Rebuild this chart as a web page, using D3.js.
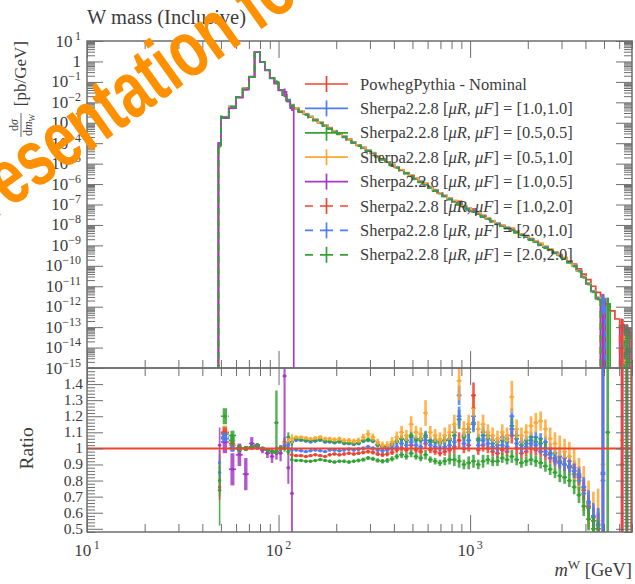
<!DOCTYPE html>
<html>
<head>
<meta charset="utf-8">
<script src="https://cdn.jsdelivr.net/npm/d3@7"></script>
<style>
  body { margin: 0; background: #fff; }
  svg text { font-family: "Liberation Serif", "Times New Roman", serif; fill: #3c3c3c; }
</style>
</head>
<body>
<svg id="chart" width="635" height="584"></svg>
<script>
// ---- data -------------------------------------------------------------
// bin edges of the m^W histogram [GeV]
const binEdges = [48.5,50,55,60,65,70,75,80,85,90,95,100,105,110,115,120,
  127,135,143,151,160,170,180,190,202,214,226,240,254,269,285,302,320,339,359,380,
  403,426,452,478,507,537,569,602,638,676,716,759,804,851,902,955,1012,1072,1135,1203,
  1274,1350,1430,1515,1604,1700,1800,1907,2020,2140,2267,2402,2544,2695,2855,3024,3204,
  3394,3595,3808,4034,4274,4527,4796,5080,5381,5701,6039,6397,6777,7179];

// PowhegPythia nominal dσ/dm^W [pb/GeV]
const nominal = [1.0e-4,1.70e-3,5.9e-3,1.78e-2,5.0e-2,0.174,2.82,0.933,0.380,0.155,8.7e-2,4.0e-2,2.24e-2,1.26e-2,7.2e-3,
  4.9e-3,3.55e-3,2.63e-3,1.91e-3,1.38e-3,1.0e-3,7.4e-4,5.4e-4,3.9e-4,2.9e-4,
  2.1e-4,1.51e-4,1.10e-4,7.9e-5,5.9e-5,4.3e-5,3.2e-5,2.3e-5,1.66e-5,1.20e-5,
  8.7e-6,6.5e-6,4.7e-6,3.4e-6,2.45e-6,1.78e-6,1.29e-6,9.3e-7,6.8e-7,4.9e-7,
  3.5e-7,2.6e-7,1.86e-7,1.38e-7,1.05e-7,7.9e-8,6.0e-8,4.6e-8,3.5e-8,2.6e-8,
  2.0e-8,1.51e-8,1.15e-8,8.9e-9,7.1e-9,5.5e-9,4.4e-9,3.4e-9,2.6e-9,1.95e-9,
  1.48e-9,1.10e-9,8.3e-10,6.3e-10,4.7e-10,3.5e-10,2.5e-10,1.74e-10,1.20e-10,7.1e-11,
  3.9e-11,2.1e-11,1.0e-11,5.0e-12,2.5e-12,1.26e-12,6.3e-13,2.5e-13,1.26e-13,6.3e-14,3.2e-14];

// Sherpa / nominal ratios and their uncertainties
const ratioS11 = [0.91,1.06,1.00,1.00,1.00,1.01,1.02,1.00,0.99,0.98,0.98,1.00,1.02,1.03,1.04,
  1.05,1.05,1.045,1.04,1.045,1.05,1.04,1.04,1.035,1.04,
  1.03,1.03,1.025,1.03,1.045,1.05,1.045,1.02,1.01,1.00,
  1.02,1.04,1.06,1.05,1.07,1.06,1.05,1.08,1.05,1.04,
  1.03,1.05,1.06,1.10,1.33,1.08,1.12,1.20,1.06,1.10,
  1.08,1.05,1.04,1.07,1.06,1.20,1.08,1.04,1.05,1.07,
  1.07,1.06,1.04,1.00,0.97,0.95,0.94,0.92,0.88,0.84,
  0.76,0.66,0.57,0.52,0.80,null,null,null,null,null,null];
const errS11 = [0.08,0.03,0.02,0.015,0.012,0.01,0.008,0.008,0.01,0.012,0.015,0.015,0.02,0.02,0.02,
  0.008,0.008,0.008,0.008,0.008,0.008,0.008,0.009,0.009,0.009,
  0.01,0.01,0.01,0.011,0.012,0.012,0.013,0.013,0.014,0.015,
  0.016,0.018,0.02,0.02,0.025,0.02,0.02,0.03,0.02,0.02,
  0.02,0.025,0.03,0.04,0.06,0.03,0.04,0.05,0.03,0.04,
  0.03,0.03,0.03,0.03,0.03,0.05,0.035,0.03,0.03,0.035,
  0.035,0.035,0.035,0.035,0.035,0.04,0.04,0.04,0.045,0.05,
  0.06,0.07,0.08,0.1,0.8,null,null,null,null,null,null];

const ratioS0505 = [0.74,1.09,1.08,1.00,1.00,1.01,1.02,1.00,0.99,0.98,1.16,1.00,1.04,1.07,1.04,
  1.06,1.055,1.05,1.05,1.05,1.055,1.045,1.045,1.04,1.045,
  1.035,1.035,1.03,1.035,1.05,1.055,1.05,1.025,1.015,1.01,
  1.03,1.045,1.06,1.05,1.08,1.05,1.06,1.07,1.04,1.05,
  1.04,1.05,1.05,1.08,1.18,1.07,1.10,1.16,1.05,1.08,
  1.06,1.03,1.02,1.05,1.04,1.14,1.06,1.02,1.03,1.05,
  1.04,1.03,1.00,0.97,0.94,0.92,0.90,0.88,0.84,0.80,
  0.72,0.63,0.55,0.50,null,1.10,null,null,null,null,null];
const errS0505 = [0.22,0.05,0.03,0.02,0.015,0.012,0.008,0.01,0.012,0.015,0.2,0.02,0.03,0.03,0.03,
  0.008,0.008,0.008,0.008,0.008,0.009,0.009,0.009,0.009,0.01,
  0.01,0.01,0.011,0.011,0.012,0.013,0.013,0.014,0.014,0.015,
  0.017,0.018,0.02,0.02,0.025,0.02,0.022,0.03,0.02,0.022,
  0.022,0.025,0.03,0.04,0.06,0.03,0.04,0.05,0.03,0.04,
  0.03,0.03,0.03,0.03,0.03,0.05,0.035,0.03,0.03,0.035,
  0.035,0.035,0.035,0.035,0.04,0.04,0.04,0.045,0.05,0.05,
  0.06,0.07,0.08,0.1,null,1.0,null,null,null,null,null];

const ratioS0510 = [0.88,1.10,1.02,1.00,1.00,1.01,1.02,1.00,0.99,0.98,0.98,1.00,1.03,1.04,1.06,
  1.07,1.07,1.065,1.06,1.065,1.07,1.06,1.06,1.055,1.06,
  1.05,1.05,1.045,1.05,1.07,1.09,1.07,1.04,1.02,1.02,
  1.04,1.07,1.10,1.08,1.15,1.10,1.09,1.22,1.10,1.08,
  1.06,1.08,1.10,1.15,1.42,1.12,1.15,1.25,1.12,1.15,
  1.10,1.08,1.06,1.10,1.08,1.32,1.12,1.08,1.10,1.14,
  1.16,1.17,1.12,1.06,1.03,1.00,0.98,0.95,0.90,0.82,
  0.75,0.65,0.58,0.55,0.90,null,null,null,1.05,null,0.95];
const errS0510 = [0.1,0.04,0.03,0.02,0.015,0.012,0.01,0.01,0.012,0.015,0.02,0.02,0.025,0.025,0.03,
  0.01,0.01,0.01,0.01,0.01,0.012,0.012,0.012,0.013,0.013,
  0.014,0.015,0.016,0.017,0.02,0.025,0.022,0.02,0.022,0.025,
  0.03,0.035,0.04,0.035,0.05,0.04,0.04,0.08,0.04,0.04,
  0.04,0.05,0.05,0.06,0.12,0.05,0.06,0.08,0.05,0.06,
  0.05,0.05,0.05,0.05,0.05,0.1,0.06,0.05,0.05,0.06,
  0.06,0.06,0.06,0.07,0.07,0.08,0.08,0.09,0.1,0.12,
  0.14,0.15,0.15,0.2,0.9,null,null,null,1.0,null,1.0];

const ratioS1005 = [1.02,1.04,0.87,0.96,0.84,1.03,1.01,0.99,0.97,0.95,0.97,0.97,1.45,0.88,0.72,
  null,null,null,null,null,null,null,null,null,null,
  null,null,null,null,null,null,null,null,null,null,
  null,null,null,null,null,null,null,null,null,null,
  null,null,null,null,null,null,null,null,null,null,
  null,null,null,null,null,null,null,null,null,null,
  null,null,null,null,null,null,null,null,null,null,
  null,null,null,null,0.84,null,null,null,1.00,0.95,null];
const errS1005 = [0.11,0.07,0.1,0.07,0.1,0.04,0.02,0.02,0.03,0.04,0.04,0.05,0.45,0.1,0.27,
  null,null,null,null,null,null,null,null,null,null,
  null,null,null,null,null,null,null,null,null,null,
  null,null,null,null,null,null,null,null,null,null,
  null,null,null,null,null,null,null,null,null,null,
  null,null,null,null,null,null,null,null,null,null,
  null,null,null,null,null,null,null,null,null,null,
  null,null,null,null,1.0,null,null,null,1.0,1.0,null];

const ratioS1020 = [0.76,1.10,1.03,1.00,1.00,1.01,1.02,1.00,0.99,0.98,0.98,1.00,1.01,1.00,0.96,
  0.955,0.955,0.95,0.955,0.96,0.955,0.95,0.96,0.965,0.96,
  0.965,0.97,0.965,0.97,0.975,0.98,0.975,0.965,0.96,0.965,
  0.975,0.99,1.00,0.99,1.02,0.99,0.98,1.03,0.99,0.98,
  0.97,0.98,0.99,1.01,1.05,1.00,1.02,1.33,0.99,1.02,
  1.00,0.98,0.97,0.99,0.98,1.08,1.00,0.97,0.98,1.00,
  0.99,0.98,0.96,0.94,0.92,0.91,0.90,0.89,0.86,0.82,
  0.74,0.64,0.55,0.50,null,null,null,null,0.90,1.10,1.00];
const errS1020 = [0.08,0.03,0.02,0.015,0.012,0.01,0.008,0.008,0.01,0.012,0.015,0.015,0.02,0.02,0.02,
  0.008,0.008,0.008,0.008,0.008,0.008,0.008,0.009,0.009,0.009,
  0.01,0.01,0.01,0.011,0.012,0.012,0.013,0.013,0.014,0.015,
  0.016,0.018,0.02,0.02,0.025,0.02,0.02,0.03,0.02,0.02,
  0.02,0.025,0.03,0.04,0.05,0.03,0.04,0.08,0.03,0.04,
  0.03,0.03,0.03,0.03,0.03,0.05,0.035,0.03,0.03,0.035,
  0.035,0.035,0.035,0.035,0.035,0.04,0.04,0.04,0.045,0.05,
  0.06,0.07,0.08,0.1,null,null,null,null,1.0,1.0,1.0];

const ratioS2010 = [0.85,1.07,1.00,1.00,1.00,1.01,1.02,1.00,0.99,0.98,0.98,1.00,1.01,1.02,0.99,
  0.99,0.985,0.98,0.985,0.99,0.985,0.98,0.99,0.99,0.985,
  0.99,0.995,0.99,0.995,1.00,1.01,1.00,0.99,0.985,0.99,
  1.00,1.01,1.03,1.02,1.04,1.02,1.01,1.05,1.02,1.01,
  1.00,1.01,1.02,1.04,1.20,1.03,1.05,1.15,1.02,1.05,
  1.03,1.01,1.00,1.02,1.01,1.12,1.03,1.00,1.01,1.03,
  1.02,1.00,0.98,0.96,0.93,0.91,0.90,0.89,0.86,0.83,
  0.76,0.67,0.58,0.53,0.85,null,null,null,null,null,null];
const errS2010 = [0.08,0.03,0.02,0.015,0.012,0.01,0.008,0.008,0.01,0.012,0.015,0.015,0.02,0.02,0.02,
  0.008,0.008,0.008,0.008,0.008,0.008,0.008,0.009,0.009,0.009,
  0.01,0.01,0.01,0.011,0.012,0.012,0.013,0.013,0.014,0.015,
  0.016,0.018,0.02,0.02,0.025,0.02,0.02,0.03,0.02,0.02,
  0.02,0.025,0.03,0.04,0.06,0.03,0.04,0.05,0.03,0.04,
  0.03,0.03,0.03,0.03,0.03,0.05,0.035,0.03,0.03,0.035,
  0.035,0.035,0.035,0.035,0.035,0.04,0.04,0.04,0.045,0.05,
  0.06,0.07,0.08,0.1,0.8,null,null,null,null,null,null];

const ratioS2020 = [0.80,1.20,1.05,1.00,1.00,1.01,1.02,1.00,0.99,0.98,0.98,1.00,1.00,0.98,0.93,
  0.925,0.925,0.92,0.92,0.925,0.93,0.925,0.92,0.915,0.92,
  0.92,0.915,0.92,0.925,0.93,0.94,0.935,0.925,0.92,0.925,
  0.935,0.95,0.96,0.95,0.97,0.95,0.94,0.96,0.93,0.92,
  0.91,0.92,0.93,0.93,0.92,0.90,0.91,0.92,0.90,0.92,
  0.93,0.92,0.92,0.94,0.93,0.95,0.93,0.91,0.92,0.93,
  0.92,0.91,0.89,0.87,0.85,0.83,0.82,0.80,0.76,0.71,
  0.64,0.56,0.50,0.45,null,null,null,null,null,1.00,null];
const errS2020 = [0.1,0.05,0.03,0.02,0.015,0.012,0.008,0.008,0.01,0.012,0.015,0.015,0.02,0.02,0.02,
  0.008,0.008,0.008,0.008,0.008,0.008,0.008,0.009,0.009,0.009,
  0.01,0.01,0.01,0.011,0.012,0.012,0.013,0.013,0.014,0.015,
  0.016,0.018,0.02,0.02,0.025,0.02,0.02,0.03,0.02,0.02,
  0.02,0.025,0.03,0.04,0.04,0.03,0.04,0.04,0.03,0.04,
  0.03,0.03,0.03,0.03,0.03,0.04,0.035,0.03,0.03,0.035,
  0.035,0.035,0.035,0.035,0.035,0.04,0.04,0.04,0.045,0.05,
  0.06,0.07,0.08,0.1,null,null,null,null,null,1.0,null];

// legend entries
const seriesLabels = ['PowhegPythia - Nominal', 'Sherpa2.2.8', 'Sherpa2.2.8', 'Sherpa2.2.8', 'Sherpa2.2.8',
  'Sherpa2.2.8', 'Sherpa2.2.8', 'Sherpa2.2.8'];
const scalePairs = [null, '1.0,1.0', '0.5,0.5', '0.5,1.0', '1.0,0.5', '1.0,2.0', '2.0,1.0', '2.0,2.0'];
const seriesColors = ['#ee4430', '#4f7df5', '#34a234', '#ffa733', '#a43ac4', '#ee4430', '#4f7df5', '#34a234'];
const seriesDashed = [false, false, false, false, false, true, true, true];
const ratios = [null, ratioS11, ratioS0505, ratioS0510, ratioS1005, ratioS1020, ratioS2010, ratioS2020];
const ratioErrs = [null, errS11, errS0505, errS0510, errS1005, errS1020, errS2010, errS2020];

// axis ticks
const xMajor = [10, 100, 1000];
const xMinor = [20,30,40,50,60,70,80,90,200,300,400,500,600,700,800,900,2000,3000,4000,5000,6000,7000];
const yMainExps = d3.range(-15, 2);
const ratioMajor = [0.5,0.6,0.7,0.8,0.9,1.0,1.1,1.2,1.3,1.4];

// ---- layout -----------------------------------------------------------
const left = 87, right = 632, mainTop = 41, split = 368, ratioBottom = 532;
const svg = d3.select('#chart');

const x = d3.scaleLog().domain([10, 7000]).range([left, right]);
const yMain = d3.scaleLog().domain([1e-15, 10]).range([split, mainTop]);
const yRatio = d3.scaleLinear().domain([0.48, 1.5]).range([ratioBottom, split]);

const defs = svg.append('defs');
defs.append('clipPath').attr('id', 'clipMain').append('rect')
  .attr('x', left).attr('y', mainTop).attr('width', right - left).attr('height', split - mainTop);
defs.append('clipPath').attr('id', 'clipRatio').append('rect')
  .attr('x', left).attr('y', split).attr('width', right - left).attr('height', ratioBottom - split);

const nBins = binEdges.length - 1;
const seriesValues = ratios.map((r, s) => nominal.map((v, i) => s === 0 ? v : (r[i] == null ? null : v * r[i])));

// ---- main panel histograms ------------------------------------------------
const gMain = svg.append('g').attr('clip-path', 'url(#clipMain)');
const floorY = split + 3;

function stepPath(vals) {
  let p = `M${x(binEdges[0])},${floorY}`;
  for (let i = 0; i < nBins; i++) {
    const v = vals[i];
    const yy = (v == null || v <= 0) ? floorY : Math.min(floorY, yMain(v));
    p += `V${yy}H${x(binEdges[i + 1])}`;
  }
  return p + `V${floorY}`;
}

function barWidth(i) {
  const w = x(binEdges[i + 1]) - x(binEdges[i]);
  return Math.max(1.6, Math.min(4.5, w * 0.55));
}
function binCentre(i) {
  return (x(binEdges[i]) + x(binEdges[i + 1])) / 2;
}

seriesValues.forEach((vals, s) => {
  gMain.append('path')
    .attr('d', stepPath(vals))
    .attr('fill', 'none')
    .attr('stroke', seriesColors[s])
    .attr('stroke-width', 1.7)
    .attr('stroke-dasharray', seriesDashed[s] ? '7,5' : null);
  if (s === 0) return;
  // error boxes
  vals.forEach((v, i) => {
    const e = ratioErrs[s][i];
    if (v == null || e == null) return;
    const lo = v * (1 - e), hi = v * (1 + e);
    const y1 = yMain(hi), y2 = lo > 0 ? Math.min(floorY, yMain(lo)) : floorY;
    const w = barWidth(i);
    gMain.append('rect').attr('x', binCentre(i) - w / 2).attr('y', y1).attr('width', w)
      .attr('height', Math.max(0, y2 - y1)).attr('fill', seriesColors[s]);
  });
});

// ---- ratio panel ------------------------------------------------------------
const gRatio = svg.append('g').attr('clip-path', 'url(#clipRatio)');
for (let s = 1; s < ratios.length; s++) {
  const r = ratios[s], er = ratioErrs[s];
  for (let i = 0; i < nBins; i++) {
    if (r[i] == null) continue;
    const x0 = x(binEdges[i]), x1 = x(binEdges[i + 1]);
    const cx = binCentre(i), w = barWidth(i);
    if (er[i] != null) {
      const y1 = yRatio(r[i] + er[i]), y2 = yRatio(r[i] - er[i]);
      gRatio.append('rect').attr('x', cx - w / 2).attr('y', y1).attr('width', w).attr('height', y2 - y1)
        .attr('fill', seriesColors[s]).attr('fill-opacity', 0.85);
    }
    gRatio.append('line').attr('x1', x0).attr('x2', x1).attr('y1', yRatio(r[i])).attr('y2', yRatio(r[i]))
      .attr('stroke', seriesColors[s]).attr('stroke-width', 1.6)
      .attr('stroke-dasharray', seriesDashed[s] ? '2,1.5' : null);
    gRatio.append('circle').attr('cx', cx).attr('cy', yRatio(r[i])).attr('r', 1.7).attr('fill', seriesColors[s]);
  }
}
// nominal reference line
gRatio.append('line').attr('x1', left).attr('x2', right).attr('y1', yRatio(1)).attr('y2', yRatio(1))
  .attr('stroke', seriesColors[0]).attr('stroke-width', 2);

// ---- axes, ticks, frames ---------------------------------------------------
const tickColor = '#6e6e6e';
function styleAxis(g) {
  g.select('.domain').remove();
  g.selectAll('line').attr('stroke', tickColor).attr('stroke-width', 1);
  g.selectAll('text').remove();
}
function xTicks(yPos, dir) {
  const mk = dir === 'up' ? d3.axisBottom : d3.axisTop;
  svg.append('g').attr('transform', `translate(0,${yPos})`)
    .call(mk(x).tickValues(xMinor).tickSize(-8).tickFormat('')).call(styleAxis);
  svg.append('g').attr('transform', `translate(0,${yPos})`)
    .call(mk(x).tickValues(xMajor).tickSize(-17).tickFormat('')).call(styleAxis);
}
xTicks(mainTop, 'down');
xTicks(split, 'up');
xTicks(split, 'down');
xTicks(ratioBottom, 'up');

const yMainMinor = [];
yMainExps.forEach(k => { if (k < 1) for (let m = 2; m <= 9; m++) yMainMinor.push(m * Math.pow(10, k)); });
const yMainMajor = yMainExps.map(k => Math.pow(10, k));
[[d3.axisLeft, left], [d3.axisRight, right]].forEach(([mk, xp]) => {
  svg.append('g').attr('transform', `translate(${xp},0)`)
    .call(mk(yMain).tickValues(yMainMinor).tickSize(-8).tickFormat('')).call(styleAxis);
  svg.append('g').attr('transform', `translate(${xp},0)`)
    .call(mk(yMain).tickValues(yMainMajor).tickSize(-16).tickFormat('')).call(styleAxis);
});

const ratioMinor = d3.range(24, 76).map(k => k / 50).filter(v => !ratioMajor.some(m => Math.abs(m - v) < 1e-6));
[[d3.axisLeft, left], [d3.axisRight, right]].forEach(([mk, xp]) => {
  svg.append('g').attr('transform', `translate(${xp},0)`)
    .call(mk(yRatio).tickValues(ratioMinor).tickSize(-8).tickFormat('')).call(styleAxis);
  svg.append('g').attr('transform', `translate(${xp},0)`)
    .call(mk(yRatio).tickValues(ratioMajor).tickSize(-16).tickFormat('')).call(styleAxis);
});

// frames
svg.append('rect').attr('x', left).attr('y', mainTop).attr('width', right - left).attr('height', split - mainTop)
  .attr('fill', 'none').attr('stroke', tickColor).attr('stroke-width', 1.5);
svg.append('rect').attr('x', left).attr('y', split).attr('width', right - left).attr('height', ratioBottom - split)
  .attr('fill', 'none').attr('stroke', tickColor).attr('stroke-width', 1.5);

// ---- tick labels -----------------------------------------------------------
function powerLabel(t, exp) {
  if (exp === 0) { t.text('1'); return; }
  t.append('tspan').text('10');
  t.append('tspan').attr('dy', -7).attr('font-size', 12).text((exp < 0 ? '\u2212' : '\u2009') + Math.abs(exp));
}
yMainExps.forEach(k => {
  const t = svg.append('text').attr('x', 81).attr('y', yMain(Math.pow(10, k)) + 5.5)
    .attr('text-anchor', 'end').attr('font-size', 17);
  powerLabel(t, k);
});
ratioMajor.forEach(v => {
  svg.append('text').attr('x', 83).attr('y', yRatio(v) + 5).attr('text-anchor', 'end')
    .attr('font-size', 15.5).text(v === 1 ? '1' : d3.format('.1f')(v));
});
xMajor.forEach(v => {
  const t = svg.append('text').attr('x', x(v)).attr('y', 556).attr('text-anchor', 'middle').attr('font-size', 17);
  powerLabel(t, Math.round(Math.log10(v)));
});

// ---- titles and axis labels ------------------------------------------------
svg.append('text').attr('x', left).attr('y', 24).attr('font-size', 20.5).text('W mass (Inclusive)');

const xl = svg.append('text').attr('x', 632).attr('y', 576).attr('text-anchor', 'end').attr('font-size', 18.5);
xl.append('tspan').attr('font-style', 'italic').text('m');
xl.append('tspan').attr('dy', -7).attr('font-size', 13).text('W');
xl.append('tspan').attr('dy', 7).text(' [GeV]');

const yl = svg.append('g').attr('transform', `translate(26,${mainTop}) rotate(-90)`);
yl.append('text').attr('x', 0).attr('y', 0).attr('text-anchor', 'end').attr('font-size', 17).text('[pb/GeV]');
const num = yl.append('text').attr('x', -84).attr('y', -8).attr('text-anchor', 'middle').attr('font-size', 12);
num.append('tspan').text('d');
num.append('tspan').attr('font-style', 'italic').text('σ');
yl.append('line').attr('x1', -96).attr('x2', -72).attr('y1', -5).attr('y2', -5).attr('stroke', '#3c3c3c').attr('stroke-width', 0.8);
const den = yl.append('text').attr('x', -84).attr('y', 6).attr('text-anchor', 'middle').attr('font-size', 12);
den.append('tspan').text('d');
den.append('tspan').attr('font-style', 'italic').text('m');
den.append('tspan').attr('dy', 3).attr('font-size', 8).text('W');

svg.append('text').attr('transform', `translate(33,${yRatio(1)}) rotate(-90)`).attr('text-anchor', 'middle')
  .attr('font-size', 19.5).text('Ratio');

// ---- legend ----------------------------------------------------------------
const lg = svg.append('g');
seriesLabels.forEach((lab, i) => {
  const yy = 84 + i * 24.4;
  const c = seriesColors[i];
  lg.append('line').attr('x1', 305).attr('x2', 348).attr('y1', yy).attr('y2', yy).attr('stroke', c)
    .attr('stroke-width', 1.7).attr('stroke-dasharray', seriesDashed[i] ? '8,7,13,7,8' : null);
  lg.append('line').attr('x1', 326.5).attr('x2', 326.5).attr('y1', yy - 8).attr('y2', yy + 8).attr('stroke', c).attr('stroke-width', 1.7);
  const t = lg.append('text').attr('x', 360).attr('y', yy + 5.5).attr('font-size', 16.5);
  if (scalePairs[i] == null) { t.text(lab); return; }
  t.append('tspan').text(lab + ' [');
  t.append('tspan').attr('font-style', 'italic').text('μR');
  t.append('tspan').text(', ');
  t.append('tspan').attr('font-style', 'italic').text('μF');
  t.append('tspan').text('] = [' + scalePairs[i] + ']');
});

// ---- overlay stamp ---------------------------------------------------------
svg.append('text')
  .attr('transform', 'translate(-40,244) rotate(-35.5) scale(0.72,1)')
  .style('font-family', '"Liberation Sans", Arial, sans-serif')
  .style('font-weight', 'bold')
  .style('fill', '#ff9000')
  .attr('font-size', 80)
  .text('Presentation for');
</script>
</body>
</html>
